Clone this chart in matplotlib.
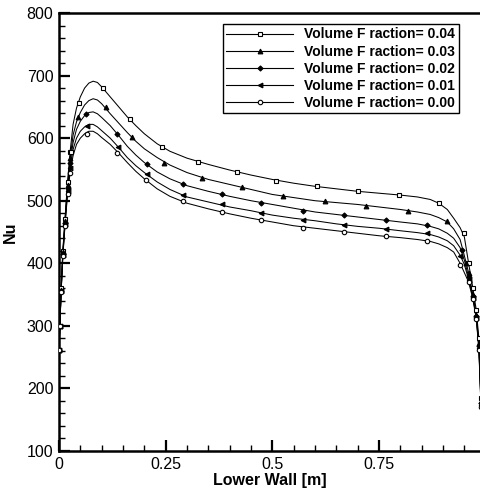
import matplotlib
matplotlib.use("Agg")
import matplotlib.pyplot as plt
from matplotlib.ticker import MultipleLocator, FixedLocator
import numpy as np

# ---------------- data ----------------
x_grid = [0, 0.002, 0.005, 0.009, 0.014, 0.02, 0.026, 0.033, 0.041, 0.05, 0.06, 0.07, 0.08,
          0.09, 0.10, 0.12, 0.14, 0.16, 0.18, 0.20, 0.23, 0.26, 0.30, 0.35, 0.40, 0.45, 0.50,
          0.55, 0.60, 0.65, 0.70, 0.75, 0.80, 0.84, 0.87, 0.89, 0.91, 0.925, 0.94, 0.95,
          0.96, 0.97, 0.978, 0.984, 0.989]

nu_004 = [262, 300, 360, 420, 470, 530, 578, 622, 648, 666, 680, 688, 691,
          689, 682, 666, 650, 634, 620, 607, 591, 579, 568, 558, 549, 541, 534,
          528, 523, 519, 515, 512, 509, 506, 502, 496, 486, 472, 457, 442,
          400, 360, 325, 280, 185]
nu_003 = [262, 300, 358, 418, 468, 525, 568, 605, 626, 641, 653, 660, 663,
          661, 655, 639, 624, 609, 595, 583, 569, 557, 545, 534, 526, 518, 510,
          505, 500, 497, 494, 490, 486, 482, 478, 473, 466, 455, 438, 412,
          385, 350, 318, 272, 180]
nu_002 = [262, 300, 356, 415, 465, 520, 560, 593, 614, 627, 636, 641, 642,
          639, 633, 620, 604, 587, 573, 561, 546, 535, 524, 515, 507, 500, 494,
          488, 482, 478, 474, 470, 466, 463, 459, 455, 448, 440, 425, 405,
          378, 347, 315, 268, 176]
nu_001 = [262, 300, 355, 413, 462, 515, 552, 582, 600, 611, 618, 622, 622,
          618, 612, 600, 585, 569, 556, 545, 530, 518, 506, 498, 490, 484, 477,
          472, 468, 463, 459, 456, 452, 449, 446, 442, 436, 428, 413, 398,
          374, 345, 313, 265, 173]
nu_000 = [262, 300, 354, 411, 460, 510, 545, 572, 590, 600, 607, 611, 611,
          607, 601, 590, 576, 561, 547, 535, 519, 507, 496, 487, 479, 472, 466,
          460, 456, 452, 448, 444, 441, 438, 435, 431, 425, 418, 400, 385,
          370, 343, 311, 262, 170]

# interior marker positions
mk_x_004 = [0.028, 0.047, 0.103, 0.166, 0.241, 0.326, 0.418, 0.509, 0.604, 0.701, 0.797, 0.891, 0.948]
mk_y_004 = [578, 656, 680, 630, 586, 562, 546, 532, 523, 515, 509, 496, 448]
mk_x_003 = [0.045, 0.109, 0.172, 0.245, 0.335, 0.428, 0.526, 0.624, 0.719, 0.818, 0.909, 0.954]
mk_y_003 = [633, 649, 602, 561, 536, 522, 507, 499, 492, 484, 467, 400]
mk_x_002 = [0.063, 0.137, 0.206, 0.291, 0.383, 0.474, 0.571, 0.668, 0.766, 0.863, 0.944]
mk_y_002 = [638, 606, 558, 526, 510, 496, 484, 477, 469, 461, 421]
mk_x_001 = [0.065, 0.138, 0.206, 0.290, 0.382, 0.474, 0.571, 0.668, 0.766, 0.863, 0.940]
mk_y_001 = [619, 586, 542, 509, 494, 480, 469, 461, 455, 448, 411]
mk_x_000 = [0.065, 0.137, 0.204, 0.291, 0.382, 0.474, 0.571, 0.668, 0.766, 0.863, 0.940]
mk_y_000 = [607, 577, 533, 499, 482, 469, 457, 450, 443, 436, 397]

labels = ["Volume F raction= 0.04", "Volume F raction= 0.03", "Volume F raction= 0.02",
          "Volume F raction= 0.01", "Volume F raction= 0.00"]
x_ticks = [0, 0.25, 0.5, 0.75]
x_ticklabels = ["0", "0.25", "0.5", "0.75"]
y_ticks = [100, 200, 300, 400, 500, 600, 700, 800]

# ---------------- plot ----------------
plt.rcParams['font.family'] = ['Liberation Sans', 'DejaVu Sans']
fig = plt.figure(figsize=(4.81, 4.93), dpi=100)
ax = fig.add_axes([59/481, 42/493, 1 - 59/481, (451-13)/493])

series = [
    (nu_004, mk_x_004, mk_y_004, dict(marker='s', mfc='white', markersize=3.0)),
    (nu_003, mk_x_003, mk_y_003, dict(marker='^', mfc='black', markersize=3.4)),
    (nu_002, mk_x_002, mk_y_002, dict(marker='D', mfc='black', markersize=2.6)),
    (nu_001, mk_x_001, mk_y_001, dict(marker='<', mfc='black', markersize=3.4)),
    (nu_000, mk_x_000, mk_y_000, dict(marker='o', mfc='white', markersize=3.2)),
]
xg = np.array(x_grid)
wall = (xg < 0.027) | (xg > 0.955)
for (nu, mx, my, mstyle), lab in zip(series, labels):
    nu = np.array(nu)
    ax.plot(xg, nu, color='black', lw=0.75, zorder=2)
    allx = np.concatenate([xg[wall], mx])
    ally = np.concatenate([nu[wall], my])
    ax.plot(allx, ally, ls='none', color='black', mec='black', mew=0.8,
            zorder=3, **mstyle)
    ax.plot([], [], color='black', lw=0.8, mec='black', mew=0.8,
            label=lab, **mstyle)

ax.set_xlim(0, 0.989)
ax.set_ylim(100, 800)
ax.xaxis.set_major_locator(FixedLocator(x_ticks))
ax.set_xticklabels(x_ticklabels)
ax.xaxis.set_minor_locator(MultipleLocator(0.05))
ax.yaxis.set_major_locator(FixedLocator(y_ticks))
ax.yaxis.set_minor_locator(MultipleLocator(20))
ax.tick_params(which='major', direction='in', length=8, width=1.6, labelsize=11.5, pad=4)
ax.tick_params(which='minor', direction='in', length=4, width=1.0)
ax.tick_params(top=False, right=False, which='both')
for s in ['left', 'bottom', 'top']:
    ax.spines[s].set_linewidth(1.8)
ax.spines['right'].set_visible(False)

ax.set_xlabel("Lower Wall [m]", fontsize=11.5, fontweight='bold', labelpad=1)
ax.set_ylabel("Nu", fontsize=11.5, fontweight='bold', labelpad=6)

leg = ax.legend(loc='upper left', bbox_to_anchor=((223-59)/422, (451-24)/438),
                frameon=True, fancybox=False, edgecolor='black', framealpha=1,
                prop=dict(size=10, weight='bold'), handlelength=4.8, handletextpad=0.8,
                labelspacing=0.22, borderpad=0.25, borderaxespad=0)
leg.get_frame().set_linewidth(1.0)

fig.savefig("out.png", dpi=100, facecolor='white')
